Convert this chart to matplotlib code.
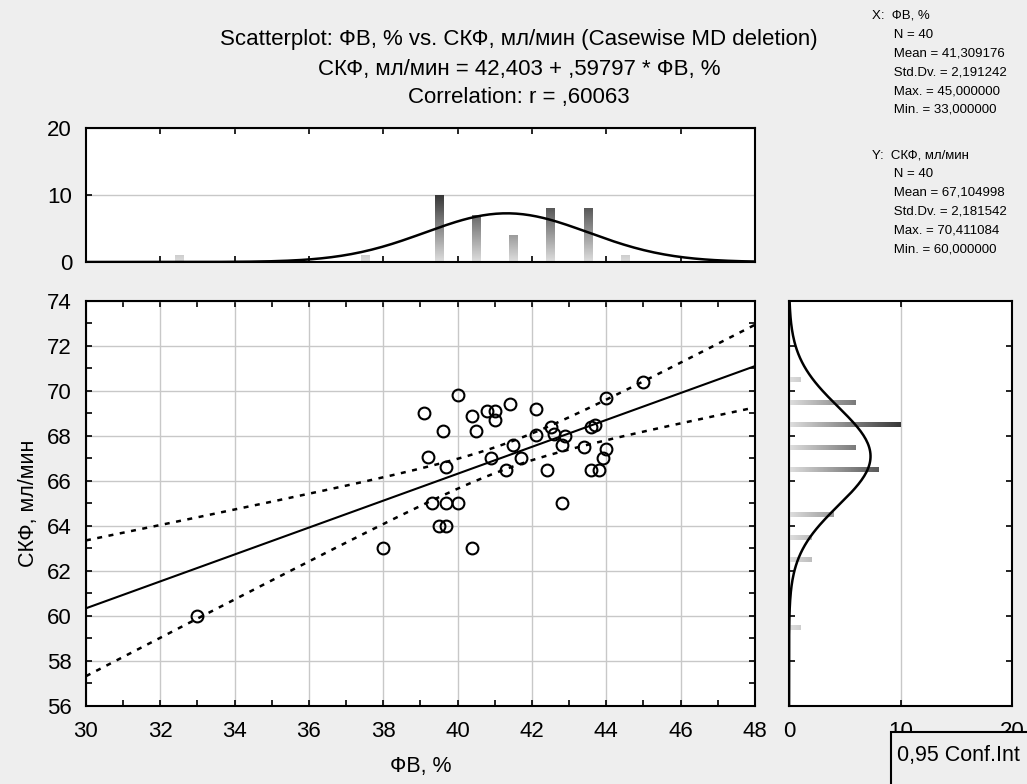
import numpy as np
import matplotlib.pyplot as plt
from matplotlib.colors import LinearSegmentedColormap
from matplotlib.patches import Rectangle

plt.rcParams['font.family'] = ['Liberation Sans', 'DejaVu Sans']

# data
fv = [39.1, 40.0, 39.6, 39.2, 39.7, 40.4, 40.5, 40.8, 41.0, 41.0,
      41.4, 42.1, 41.5, 40.9, 41.3, 41.7, 42.1, 42.4, 42.5, 42.6,
      42.9, 42.8, 42.8, 43.4, 43.6, 43.7, 44.0, 45.0, 44.0, 43.9,
      43.6, 43.8, 39.3, 39.7, 40.0, 39.5, 39.7, 38.0, 40.4, 33.0]
skf = [69.0, 69.8, 68.2, 67.05, 66.6, 68.9, 68.2, 69.1, 69.1, 68.7,
       69.4, 69.2, 67.6, 67.0, 66.5, 67.0, 68.05, 66.5, 68.4, 68.1,
       68.0, 67.6, 65.0, 67.5, 68.4, 68.5, 69.7, 70.4, 67.4, 67.0,
       66.5, 66.5, 65.0, 65.0, 65.0, 64.0, 64.0, 63.0, 63.0, 60.0]

# histogram of FV (bin centres, counts)
fv_bins = [32.5, 37.5, 39.5, 40.5, 41.5, 42.5, 43.5, 44.5]
fv_counts = [1, 1, 10, 7, 4, 8, 8, 1]
# histogram of SKF
skf_bins = [70.5, 69.5, 68.5, 67.5, 66.5, 64.5, 63.5, 62.5, 59.5]
skf_counts = [1, 6, 10, 6, 8, 4, 2, 2, 1]

intercept = 42.403
slope = 0.59797
t_crit = 2.0244  # t(0.975, 38)

x_stats = ['X:  ФВ, %', '      N = 40', '      Mean = 41,309176', '      Std.Dv. = 2,191242',
           '      Max. = 45,000000', '      Min. = 33,000000']
y_stats = ['Y:  СКФ, мл/мин', '      N = 40', '      Mean = 67,104998', '      Std.Dv. = 2,181542',
           '      Max. = 70,411084', '      Min. = 60,000000']

bg = '#eeeeee'
grid_col = '#c8c8c8'
cmap = LinearSegmentedColormap.from_list('bars', ['#dedede', '#383838'])

fig = plt.figure(figsize=(10.27, 7.84), dpi=100, facecolor=bg)
ax = fig.add_axes([0.0837, 0.0995, 0.6514, 0.5166])
axt = fig.add_axes([0.0837, 0.6658, 0.6514, 0.1709])
axr = fig.add_axes([0.7683, 0.0995, 0.2171, 0.5166])

x = np.array(fv)
y = np.array(skf)
n = len(x)

# main scatter
ax.plot(x, y, 'o', mfc='none', mec='black', ms=8.5, mew=1.5, zorder=3)
xs = np.linspace(30, 48, 200)
yfit = intercept + slope * xs
resid = y - (intercept + slope * x)
s = np.sqrt(np.sum(resid ** 2) / (n - 2))
sxx = np.sum((x - x.mean()) ** 2)
half = t_crit * s * np.sqrt(1.0 / n + (xs - x.mean()) ** 2 / sxx)
ax.plot(xs, yfit, color='black', lw=1.5, zorder=2)
ax.plot(xs, yfit + half, color='black', lw=1.8, ls=(0, (2, 2.6)), zorder=2)
ax.plot(xs, yfit - half, color='black', lw=1.8, ls=(0, (2, 2.6)), zorder=2)
ax.set_xlim(30, 48)
ax.set_ylim(56, 74)
ax.set_xticks(np.arange(30, 49, 2))
ax.set_yticks(np.arange(56, 75, 2))
ax.set_xticks(np.arange(30, 49, 1), minor=True)
ax.set_yticks(np.arange(56, 75, 1), minor=True)
ax.grid(True, color=grid_col, lw=1)
ax.tick_params(which='both', direction='in', top=True, right=True, length=4, width=1.2,
               labelsize=16)
ax.tick_params(axis='x', pad=11)
ax.tick_params(axis='y', pad=10)
ax.set_xlabel('ФВ, %', fontsize=15.5, labelpad=10)
ax.set_ylabel('СКФ, мл/мин', fontsize=15.5, labelpad=6)

# top histogram
bars = axt.bar(fv_bins, fv_counts, width=0.22, color='none', edgecolor='none')
for b in bars:
    h = b.get_height()
    im = axt.imshow(np.linspace(0, h, 64).reshape(-1, 1), origin='lower', cmap=cmap,
                    vmin=0, vmax=10, aspect='auto', zorder=2,
                    extent=[b.get_x(), b.get_x() + b.get_width(), 0, h])
    im.set_clip_path(b)
m1, s1 = np.mean(x), np.std(x, ddof=1)
axt.plot(xs, n * np.exp(-0.5 * ((xs - m1) / s1) ** 2) / (s1 * np.sqrt(2 * np.pi)),
         color='black', lw=1.8, zorder=3)
axt.set_xlim(30, 48)
axt.set_ylim(0, 20)
axt.set_yticks([0, 10, 20])
axt.set_xticks(np.arange(32, 48, 2))
axt.set_xticklabels([])
axt.grid(True, axis='y', color=grid_col, lw=1)
axt.tick_params(direction='in', top=True, length=4, width=1.2, labelsize=16)
axt.tick_params(axis='y', pad=10)

# right histogram
bars = axr.barh(skf_bins, skf_counts, height=0.22, color='none', edgecolor='none')
for b in bars:
    w = b.get_width()
    im = axr.imshow(np.linspace(0, w, 64).reshape(1, -1), origin='lower', cmap=cmap,
                    vmin=0, vmax=10, aspect='auto', zorder=2,
                    extent=[0, w, b.get_y(), b.get_y() + b.get_height()])
    im.set_clip_path(b)
ys = np.linspace(56, 74, 200)
m2, s2 = np.mean(y), np.std(y, ddof=1)
axr.plot(n * np.exp(-0.5 * ((ys - m2) / s2) ** 2) / (s2 * np.sqrt(2 * np.pi)), ys,
         color='black', lw=1.8, zorder=3)
axr.set_xlim(0, 20)
axr.set_ylim(56, 74)
axr.set_xticks([0, 10, 20])
axr.set_yticks(np.arange(58, 74, 2))
axr.set_yticklabels([])
axr.grid(True, axis='x', color=grid_col, lw=1)
axr.tick_params(direction='in', top=True, right=True, length=4, width=1.2, labelsize=16)
axr.tick_params(axis='x', pad=11)

for a in (ax, axt, axr):
    a.set_facecolor('white')
    for sp in a.spines.values():
        sp.set_linewidth(1.5)

# titles
fig.text(0.5054, 1 - 40 / 784, 'Scatterplot: ФВ, % vs. СКФ, мл/мин (Casewise MD deletion)',
         ha='center', va='center', fontsize=16)
fig.text(0.5054, 1 - 70 / 784, 'СКФ, мл/мин = 42,403 + ,59797 * ФВ, %',
         ha='center', va='center', fontsize=16)
fig.text(0.5054, 1 - 98 / 784, 'Correlation: r = ,60063',
         ha='center', va='center', fontsize=16)

# statistics
for i, line in enumerate(x_stats):
    fig.text(0.849, 1 - (16 + 18.8 * i) / 784, line, ha='left', va='center', fontsize=9.5)
for i, line in enumerate(y_stats):
    fig.text(0.849, 1 - (155 + 18.8 * i) / 784, line, ha='left', va='center', fontsize=9.5)

# legend box
fig.add_artist(Rectangle((0.8676, -0.05), 0.2, 0.1167, transform=fig.transFigure,
                         facecolor=bg, edgecolor='black', lw=1.5, zorder=5))
fig.text(0.8734, 1 - 755 / 784, '0,95 Conf.Int', ha='left', va='center', fontsize=15.5,
         zorder=6)

plt.savefig('out.png', dpi=100, facecolor=bg)
